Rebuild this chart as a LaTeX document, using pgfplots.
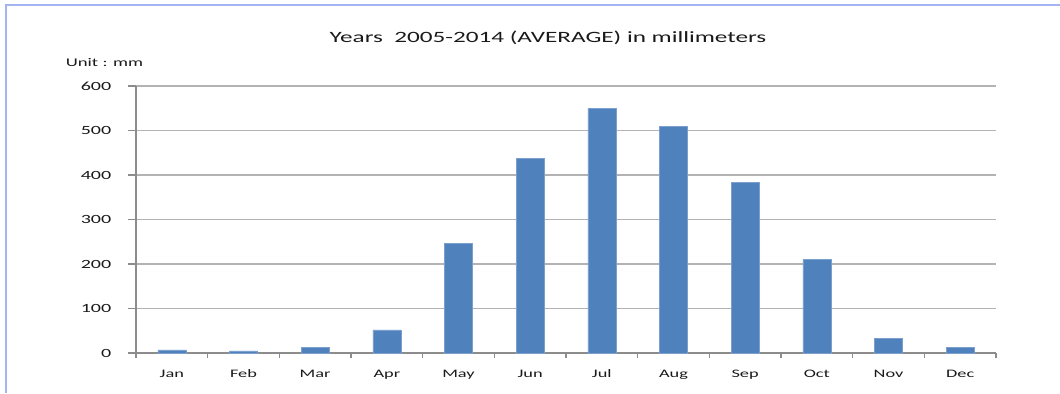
\documentclass[border=0pt]{standalone}
\usepackage{pgfplots}
\pgfplotsset{compat=1.18}
\usepackage{pgfplotstable}
\usepackage{fontspec}
\setmainfont{Carlito}
\newfontfamily\wide[FakeStretch=1.6]{Carlito}
\definecolor{barblue}{HTML}{4F81BD}
\definecolor{gridgray}{HTML}{B3B3B3}
\definecolor{axisgray}{HTML}{8C8C8C}
\definecolor{framecol}{HTML}{A4B4F2}
\definecolor{txt}{HTML}{1A1A1A}

% Monthly average rainfall, 2005-2014 (mm)
\pgfplotstableread{
idx val
0 7
1 5
2 13
3 52
4 246
5 438
6 550
7 509
8 383
9 210
10 33
11 13
}\rain

\begin{document}
\begin{tikzpicture}[x=0.75pt,y=0.75pt]
\path[use as bounding box] (0,0) rectangle (1060,393);
\draw[framecol, line width=1.5pt] (6,0) -- (6,388) -- (1060,388);
\begin{axis}[
  at={(102pt,30pt)}, anchor=south west,
  scale only axis, width=645pt, height=200.25pt,
  xmin=-0.5, xmax=11.5, ymin=0, ymax=600,
  axis x line*=bottom, axis y line*=left,
  axis line style={axisgray, line width=1.1pt},
  tick align=outside,
  xtick={0,...,11},
  xticklabels={Jan,Feb,Mar,Apr,May,Jun,Jul,Aug,Sep,Oct,Nov,Dec},
  major x tick style={draw=none},
  minor xtick={-0.5,0.5,...,11.5},
  minor tick length=4pt,
  minor x tick style={axisgray, line width=1pt},
  ytick={0,100,...,600},
  major tick length=6pt,
  major y tick style={axisgray, line width=1pt},
  ymajorgrids,
  major grid style={gridgray, line width=1.1pt},
  /pgf/number format/assume math mode=true,
  ticklabel style={text=txt},
  yticklabel style={font=\wide\fontsize{9.4}{10}\selectfont, xshift=-9pt},
  xticklabel style={font=\wide\fontsize{8.6}{10}\selectfont, yshift=-3pt},
  clip=false,
]
\addplot[ybar, bar width=21pt, fill=barblue, draw=barblue!75!white, line width=0.4pt]
  table[x=idx, y=val]{\rain};
\end{axis}
\node[text=txt, font=\wide\fontsize{11.8}{13}\selectfont] at (548,355) {Years\ \ 2005-2014 (AVERAGE) in millimeters};
\node[text=txt, font=\wide\fontsize{8.8}{10}\selectfont] at (104.5,330) {Unit : mm};
\end{tikzpicture}
\end{document}
